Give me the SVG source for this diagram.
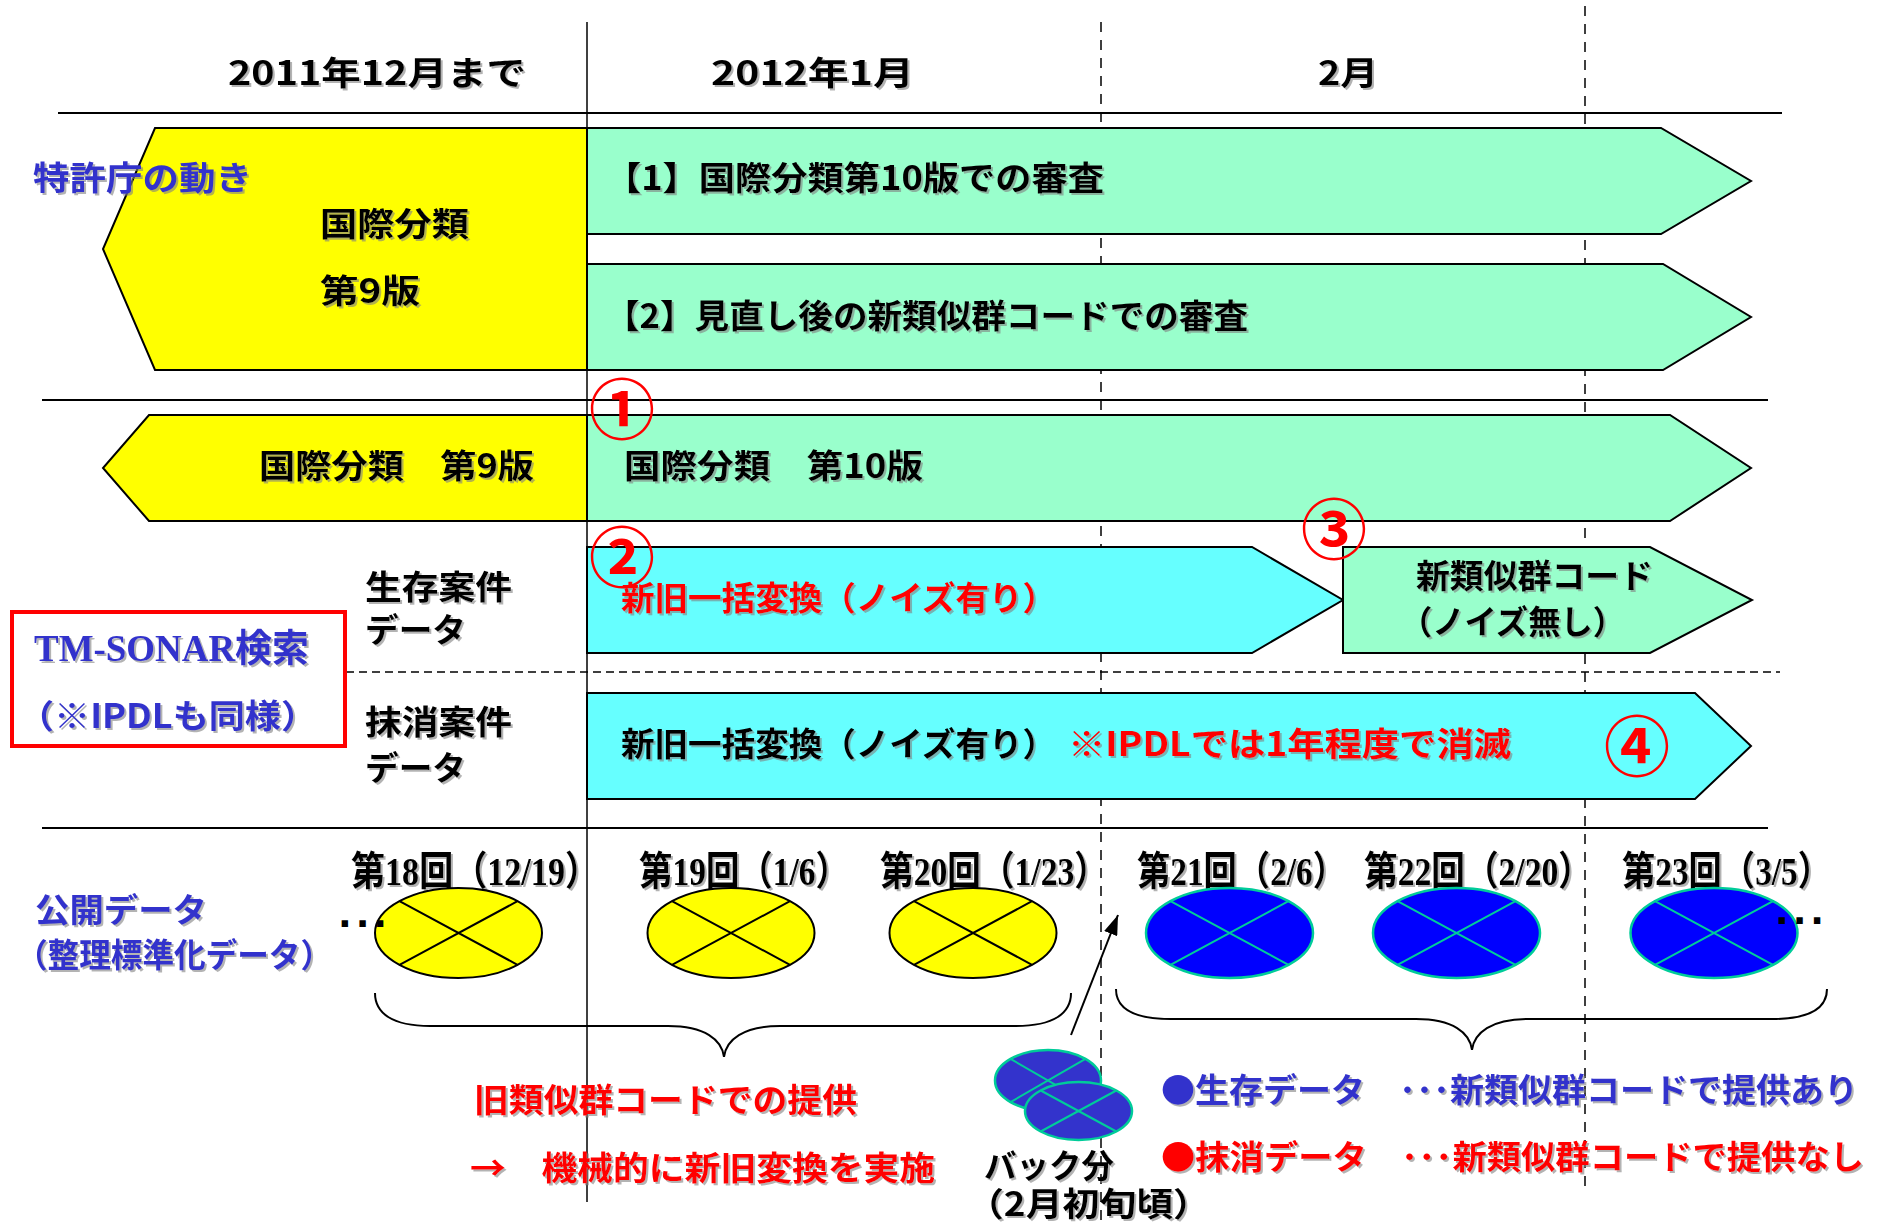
<svg xmlns="http://www.w3.org/2000/svg" width="1885" height="1223" viewBox="0 0 1885 1223">
<defs>
<filter id="sh" x="-5%" y="-20%" width="110%" height="150%">
<feDropShadow dx="2" dy="2" stdDeviation="0.6" flood-color="#808080" flood-opacity="0.6"/>
</filter>
<marker id="ah" viewBox="0 0 20 14" refX="20" refY="7" markerWidth="20" markerHeight="14" markerUnits="userSpaceOnUse" orient="auto">
<path d="M0,0 L20,7 L0,14 z" fill="#000"/>
</marker>
</defs>
<style>
.t{font-family:"Noto Sans CJK JP","Noto Sans",sans-serif;font-weight:700;font-size:33px;filter:url(#sh)}
.lbl{font-family:"Liberation Serif","Noto Sans CJK JP",serif;font-weight:700;font-size:40px;fill:#000;filter:url(#sh)}
.k{fill:#000}.b{fill:#3333CC}.r{fill:#FF0000}
.num{font-family:"Noto Sans CJK JP",sans-serif;font-weight:700;font-size:66px;fill:#FF0000;text-anchor:middle}
.dots{font-family:"DejaVu Sans",sans-serif;font-weight:700;font-size:36px;fill:#000;letter-spacing:4px}
.sl{stroke:#000;stroke-width:2;fill:none}
.dv{stroke:#000;stroke-width:1.5;stroke-dasharray:10 8;fill:none}
.dh{stroke:#000;stroke-width:1.5;stroke-dasharray:8 5;fill:none}
.yel{fill:#FFFF00;stroke:#000;stroke-width:2}
.grn{fill:#99FFCC;stroke:#000;stroke-width:2}
.cyn{fill:#66FFFF;stroke:#000;stroke-width:2}
.ye{fill:#FFFF00;stroke:#000;stroke-width:2}
.be{fill:#0000FF;stroke:#00CC99;stroke-width:2.5}
.bb{fill:#3333CC;stroke:#00CC99;stroke-width:2.5}
.xk{stroke:#000;stroke-width:2}
.xt{stroke:#00CC99;stroke-width:2}
.brace{fill:none;stroke:#000;stroke-width:2}
</style>
<rect width="1885" height="1223" fill="#fff"/>

<g id="grid">
<line class="sl" x1="58" y1="113" x2="1782" y2="113"/>
<line class="sl" x1="42" y1="400" x2="1768" y2="400"/>
<line class="sl" x1="42" y1="828" x2="1768" y2="828"/>
<line class="dh" x1="346" y1="672" x2="1780" y2="672"/>
<line stroke="#000" stroke-width="1.5" x1="587" y1="22" x2="587" y2="1202"/>
<line class="dv" x1="1101" y1="22" x2="1101" y2="1220"/>
<line class="dv" x1="1585" y1="6" x2="1585" y2="1187"/>
</g>

<g id="header">
<text class="t k" x="228" y="85" textLength="298" lengthAdjust="spacingAndGlyphs">2011年12月まで</text>
<text class="t k" x="711" y="85" textLength="203" lengthAdjust="spacingAndGlyphs">2012年1月</text>
<text class="t k" x="1318" y="85" textLength="60" lengthAdjust="spacingAndGlyphs">2月</text>
</g>

<g id="jpo-v9">
<polygon class="yel" points="155,128 587,128 587,370 155,370 103,249"/>
<text class="t k" x="320" y="236" textLength="149" lengthAdjust="spacingAndGlyphs">国際分類</text>
<text class="t k" x="320" y="303" textLength="100" lengthAdjust="spacingAndGlyphs">第9版</text>
</g>
<g id="jpo-label">
<text class="t b" x="33" y="190" textLength="219" lengthAdjust="spacingAndGlyphs">特許庁の動き</text>
</g>
<g id="jpo-1">
<polygon class="grn" points="587,128 1661,128 1751,181 1661,234 587,234"/>
<text class="t k" x="605" y="190" textLength="499" lengthAdjust="spacingAndGlyphs">【1】国際分類第10版での審査</text>
</g>
<g id="jpo-2">
<polygon class="grn" points="587,264 1663,264 1751,317 1663,370 587,370"/>
<text class="t k" x="605" y="328" textLength="643" lengthAdjust="spacingAndGlyphs">【2】見直し後の新類似群コードでの審査</text>
</g>

<g id="ipc-v9">
<polygon class="yel" points="149,415 587,415 587,521 149,521 103,468"/>
<text class="t k" x="259" y="478" textLength="275" lengthAdjust="spacingAndGlyphs">国際分類　第9版</text>
</g>
<g id="ipc-v10">
<polygon class="grn" points="587,415 1670,415 1751,468 1670,521 587,521"/>
<text class="t k" x="624" y="478" textLength="299" lengthAdjust="spacingAndGlyphs">国際分類　第10版</text>
</g>

<g id="tm-sonar">
<rect x="12" y="612" width="333" height="134" fill="none" stroke="#FF0000" stroke-width="4"/>
<text class="lbl" x="34" y="661" textLength="275" lengthAdjust="spacingAndGlyphs" style="fill:#3333CC;font-size:38px">TM-SONAR検索</text>
<text class="t b" x="18" y="728" textLength="299" lengthAdjust="spacingAndGlyphs">（※IPDLも同様）</text>
</g>

<g id="live-label">
<text class="t k" x="365" y="599" textLength="147" lengthAdjust="spacingAndGlyphs">生存案件</text>
<text class="t k" x="365" y="642" textLength="101" lengthAdjust="spacingAndGlyphs">データ</text>
</g>
<g id="live-old">
<polygon class="cyn" points="587,547 1252,547 1343,600 1252,653 587,653"/>
<text class="t r" x="621" y="610" textLength="435" lengthAdjust="spacingAndGlyphs">新旧一括変換（ノイズ有り）</text>
</g>
<g id="live-new">
<polygon class="grn" points="1343,547 1650,547 1752,600 1650,653 1343,653"/>
<text class="t k" x="1416" y="588" textLength="237" lengthAdjust="spacingAndGlyphs">新類似群コード</text>
<text class="t k" x="1400" y="634" textLength="225" lengthAdjust="spacingAndGlyphs">（ノイズ無し）</text>
</g>

<g id="dead-label">
<text class="t k" x="365" y="734" textLength="147" lengthAdjust="spacingAndGlyphs">抹消案件</text>
<text class="t k" x="365" y="780" textLength="101" lengthAdjust="spacingAndGlyphs">データ</text>
</g>
<g id="dead-old">
<polygon class="cyn" points="587,693 1695,693 1751,746 1695,799 587,799"/>
<text class="t k" x="621" y="756" textLength="435" lengthAdjust="spacingAndGlyphs">新旧一括変換（ノイズ有り）</text>
<text class="t r" x="1068" y="756" textLength="443" lengthAdjust="spacingAndGlyphs">※IPDLでは1年程度で消滅</text>
</g>

<g id="marks">
<text class="num" x="622" y="434">①</text>
<text class="num" x="622" y="582">②</text>
<text class="num" x="1334" y="554">③</text>
<text class="num" x="1637" y="771">④</text>
</g>

<g id="pub-label">
<text class="t b" x="35" y="922" textLength="172" lengthAdjust="spacingAndGlyphs">公開データ</text>
<text class="t b" x="16" y="967" textLength="316" lengthAdjust="spacingAndGlyphs">（整理標準化データ）</text>
</g>

<g id="pub-18">
<text class="lbl" x="351" y="885" textLength="248" lengthAdjust="spacingAndGlyphs">第18回（12/19）</text>
<ellipse class="ye" cx="458.5" cy="933" rx="83.5" ry="45"/>
<path class="xk" d="M399.5,901.2 L517.5,964.8 M517.5,901.2 L399.5,964.8"/>
</g>
<g id="pub-19">
<text class="lbl" x="639" y="885" textLength="210" lengthAdjust="spacingAndGlyphs">第19回（1/6）</text>
<ellipse class="ye" cx="731" cy="933" rx="83.5" ry="45"/>
<path class="xk" d="M672,901.2 L790,964.8 M790,901.2 L672,964.8"/>
</g>
<g id="pub-20">
<text class="lbl" x="880" y="885" textLength="228" lengthAdjust="spacingAndGlyphs">第20回（1/23）</text>
<ellipse class="ye" cx="973" cy="933" rx="83.5" ry="45"/>
<path class="xk" d="M914,901.2 L1032,964.8 M1032,901.2 L914,964.8"/>
</g>
<g id="pub-21">
<text class="lbl" x="1137" y="885" textLength="209" lengthAdjust="spacingAndGlyphs">第21回（2/6）</text>
<ellipse class="be" cx="1229.5" cy="933" rx="83.5" ry="45"/>
<path class="xt" d="M1170.5,901.2 L1288.5,964.8 M1288.5,901.2 L1170.5,964.8"/>
</g>
<g id="pub-22">
<text class="lbl" x="1364" y="885" textLength="228" lengthAdjust="spacingAndGlyphs">第22回（2/20）</text>
<ellipse class="be" cx="1456.5" cy="933" rx="83.5" ry="45"/>
<path class="xt" d="M1397.5,901.2 L1515.5,964.8 M1515.5,901.2 L1397.5,964.8"/>
</g>
<g id="pub-23">
<text class="lbl" x="1622" y="885" textLength="209" lengthAdjust="spacingAndGlyphs">第23回（3/5）</text>
<ellipse class="be" cx="1714" cy="933" rx="83.5" ry="45"/>
<path class="xt" d="M1655,901.2 L1773,964.8 M1773,901.2 L1655,964.8"/>
</g>
<g id="dots">
<text class="dots" x="338" y="927">...</text>
<text class="dots" x="1775" y="924">...</text>
</g>

<g id="backlog">
<ellipse class="bb" cx="1048" cy="1080.5" rx="53" ry="30.5"/>
<path class="xt" d="M1010.5,1058.9 L1085.5,1102.1 M1085.5,1058.9 L1010.5,1102.1"/>
<ellipse class="bb" cx="1078.5" cy="1111" rx="53.5" ry="29"/>
<path class="xt" d="M1040.7,1090.5 L1116.3,1131.5 M1116.3,1090.5 L1040.7,1131.5"/>
<text class="t k" x="984" y="1178" textLength="130" lengthAdjust="spacingAndGlyphs">バック分</text>
<text class="t k" x="967" y="1216" textLength="243" lengthAdjust="spacingAndGlyphs">（2月初旬頃）</text>
</g>

<g id="old-code">
<path class="brace" d="M375,993 C375,1013 392,1026 430,1026 L668,1026 C705,1026 722,1040 724,1057 C726,1040 743,1026 780,1026 L1016,1026 C1054,1026 1071,1013 1071,993"/>
<text class="t r" x="474" y="1112" textLength="383" lengthAdjust="spacingAndGlyphs">旧類似群コードでの提供</text>
<text class="t r" x="470" y="1180" textLength="465" lengthAdjust="spacingAndGlyphs">→　機械的に新旧変換を実施</text>
</g>

<g id="new-code">
<path class="brace" d="M1116,989 C1116,1008 1133,1019 1171,1019 L1416,1019 C1453,1019 1470,1033 1472,1050 C1474,1033 1491,1019 1528,1019 L1772,1019 C1810,1019 1827,1008 1827,989"/>
<text class="t b" x="1161" y="1102" textLength="697" lengthAdjust="spacingAndGlyphs">●生存データ　･･･新類似群コードで提供あり</text>
<text class="t r" x="1161" y="1169" textLength="703" lengthAdjust="spacingAndGlyphs">●抹消データ　･･･新類似群コードで提供なし</text>
</g>

<g id="connectors">
<line x1="1071" y1="1035" x2="1118" y2="915" stroke="#000" stroke-width="2" marker-end="url(#ah)"/>
</g>
</svg>
